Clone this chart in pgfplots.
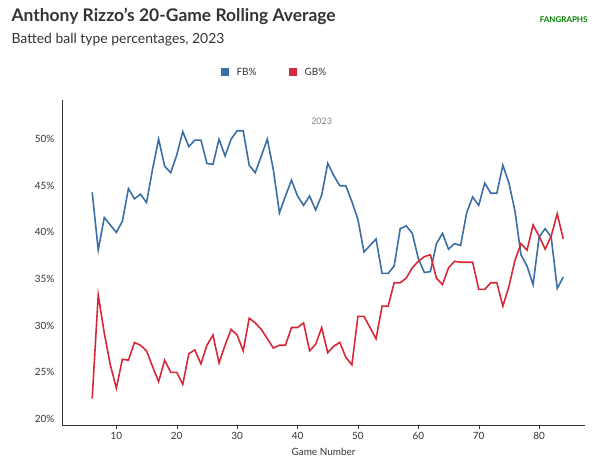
\documentclass[border=0pt]{standalone}
\usepackage{pgfplots}
\pgfplotsset{compat=1.18}
\usepackage{fontspec}
\setmainfont{Lato}
\definecolor{fb}{HTML}{3A6EA5}
\definecolor{gb}{HTML}{D62839}
\definecolor{tx}{HTML}{333333}
\begin{document}
\begin{tikzpicture}[x=1bp,y=1bp]
\path[use as bounding box] (0,0) rectangle (600,475);
\begin{axis}[at={(62bp,50bp)},anchor=south west,scale only axis,width=523bp,height=325bp,
 xmin=1,xmax=87.6,ymin=19.35,ymax=54.2,
 axis x line*=bottom, axis y line*=left,
 axis line style={tx,line width=0.8pt},
 xtick={10,20,...,80}, ytick={20,25,...,50},
 yticklabel={\pgfmathprintnumber{\tick}\%},
 tick style={tx}, major tick length=4bp, ytick style={draw=none},
 tick align=outside,
 ticklabel style={font=\fontsize{10}{12}\selectfont,text=tx},
 /pgf/number format/assume math mode=true,
 xlabel={Game Number}, xlabel style={font=\fontsize{10}{12}\selectfont,text=tx,yshift=-2bp},
 clip=false]
\addplot[fb,line width=1.6pt] coordinates {(6,44.3)(7,38.1)(8,41.6)(9,40.8)(10,40.0)(11,41.2)(12,44.7)(13,43.6)(14,44.1)(15,43.2)(16,46.8)(17,50.0)(18,47.1)(19,46.4)(20,48.3)(21,50.8)(22,49.2)(23,49.9)(24,49.9)(25,47.4)(26,47.3)(27,50.0)(28,48.2)(29,50.0)(30,50.9)(31,50.9)(32,47.2)(33,46.4)(34,48.2)(35,50.0)(36,46.7)(37,42.1)(38,43.9)(39,45.6)(40,43.9)(41,42.9)(42,43.9)(43,42.4)(44,44.0)(45,47.4)(46,46.1)(47,45.0)(48,45.0)(49,43.3)(50,41.4)(51,37.9)(52,38.6)(53,39.3)(54,35.6)(55,35.6)(56,36.4)(57,40.4)(58,40.7)(59,39.9)(60,37.2)(61,35.7)(62,35.8)(63,38.8)(64,39.9)(65,38.2)(66,38.8)(67,38.6)(68,42.1)(69,43.8)(70,42.9)(71,45.3)(72,44.2)(73,44.2)(74,47.2)(75,45.3)(76,42.3)(77,37.6)(78,36.4)(79,34.4)(80,39.5)(81,40.4)(82,39.5)(83,34.0)(84,35.2)};
\addplot[gb,line width=1.6pt] coordinates {(6,22.2)(7,33.3)(8,29.2)(9,25.8)(10,23.3)(11,26.4)(12,26.3)(13,28.2)(14,27.9)(15,27.3)(16,25.6)(17,24.0)(18,26.3)(19,25.0)(20,25.0)(21,23.7)(22,27.0)(23,27.4)(24,25.9)(25,27.9)(26,29.0)(27,26.0)(28,27.9)(29,29.6)(30,29.0)(31,27.3)(32,30.8)(33,30.3)(34,29.6)(35,28.6)(36,27.6)(37,27.9)(38,27.9)(39,29.8)(40,29.8)(41,30.3)(42,27.3)(43,28.0)(44,29.8)(45,27.1)(46,27.8)(47,28.2)(48,26.6)(49,25.8)(50,31.0)(51,31.0)(52,29.8)(53,28.6)(54,32.1)(55,32.1)(56,34.6)(57,34.6)(58,35.1)(59,36.2)(60,36.9)(61,37.4)(62,37.6)(63,35.1)(64,34.4)(65,36.2)(66,36.9)(67,36.8)(68,36.8)(69,36.8)(70,33.9)(71,33.9)(72,34.6)(73,34.6)(74,32.1)(75,34.2)(76,37.0)(77,38.8)(78,38.1)(79,40.8)(80,39.6)(81,38.2)(82,39.6)(83,42.0)(84,39.3)};
\node[font=\fontsize{9}{11}\selectfont,text=gray] at (axis cs:44,51.9) {2023};
\end{axis}
\node[anchor=base west,font=\fontsize{17.5}{20}\selectfont\bfseries,text=tx] at (8,453) {Anthony Rizzo's 20-Game Rolling Average};
\node[anchor=base west,font=\fontsize{14}{16}\selectfont,text=tx] at (8,431) {Batted ball type percentages, 2023};
\fill[fb] (221,399) rectangle (229,407);
\node[anchor=west,font=\fontsize{10}{12}\selectfont,text=tx] at (233,403) {FB\%};
\fill[gb] (289,399) rectangle (297,407);
\node[anchor=west,font=\fontsize{10}{12}\selectfont,text=tx] at (301,403) {GB\%};
\node[anchor=east,font=\fontsize{8}{10}\selectfont\bfseries,text={green!50!black}] at (591,455) {FANGRAPHS};
\end{tikzpicture}
\end{document}
